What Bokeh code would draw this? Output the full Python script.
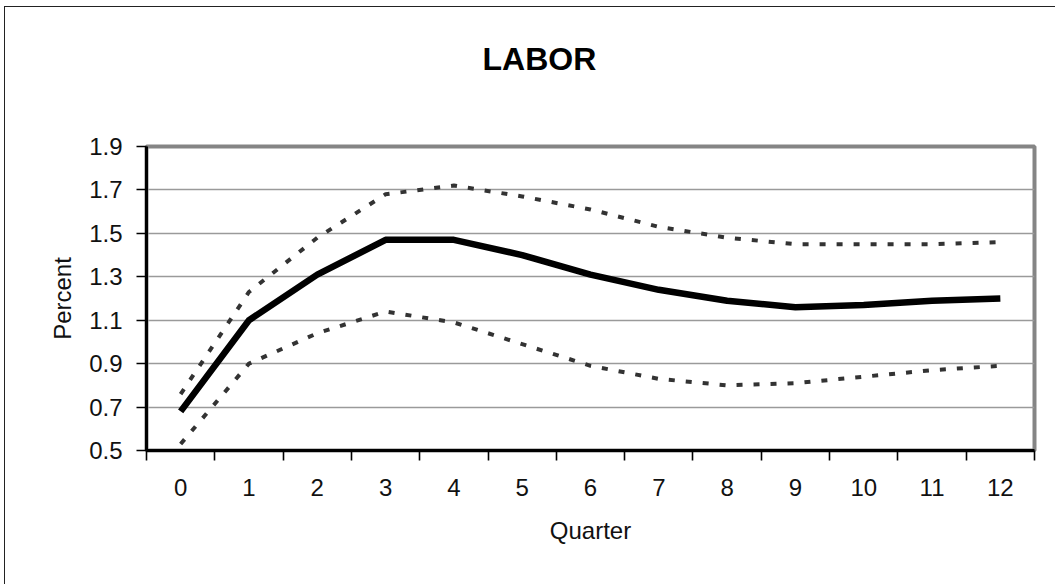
from bokeh.plotting import figure
from bokeh.models import Range1d, FixedTicker, Title
from bokeh.embed import file_html
from bokeh.resources import INLINE

# ---- data ----
quarters = list(range(13))
x_tick_labels = [str(q) for q in quarters]
y_ticks = [0.5, 0.7, 0.9, 1.1, 1.3, 1.5, 1.7, 1.9]
y_tick_labels = ["0.5", "0.7", "0.9", "1.1", "1.3", "1.5", "1.7", "1.9"]
response = [0.68, 1.10, 1.31, 1.47, 1.47, 1.40, 1.31, 1.24, 1.19, 1.16, 1.17, 1.19, 1.20]
upper_band = [0.76, 1.23, 1.48, 1.68, 1.72, 1.67, 1.61, 1.53, 1.48, 1.45, 1.45, 1.45, 1.46]
lower_band = [0.53, 0.90, 1.04, 1.14, 1.09, 0.99, 0.89, 0.83, 0.80, 0.81, 0.84, 0.87, 0.89]
chart_title = "LABOR"

FONT = "Liberation Sans"

p = figure(width=1051, height=578, output_backend="svg", toolbar_location=None,
           x_range=Range1d(quarters[0] - 0.5, quarters[-1] + 0.5),
           y_range=Range1d(y_ticks[0], y_ticks[-1]),
           min_border_left=141, min_border_right=22,
           min_border_top=139, min_border_bottom=135,
           background_fill_color="white", border_fill_color="white")
p.title = None

# spacer panel next to the frame, then the title panel above it
p.add_layout(Title(text=" ", text_font=FONT, text_font_size="10px", standoff=57), "above")
p.add_layout(Title(text=chart_title, align="left", offset=336, standoff=0,
                   text_font=FONT, text_font_size="32px", text_font_style="bold",
                   text_color="#000000"), "above")

# outer frame: only its left and top edges are visible in the reference
p.styles = {"margin-left": "5px", "margin-top": "7px", "background-color": "white",
            "box-shadow": "-1px -1px 0px 0px #222222"}

# plot area border
p.outline_line_color = "#858585"
p.outline_line_width = 4

# grid
p.xgrid.grid_line_color = None
p.ygrid.ticker = FixedTicker(ticks=y_ticks)
p.ygrid.grid_line_color = "#9a9a9a"
p.ygrid.grid_line_width = 1.6

# x axis: labels at category centres, ticks between categories
xa = p.xaxis[0]
xa.ticker = FixedTicker(ticks=quarters, minor_ticks=[q - 0.5 for q in quarters] + [quarters[-1] + 0.5])
xa.major_label_overrides = {q: lab for q, lab in zip(quarters, x_tick_labels)}
xa.major_tick_line_color = None
xa.major_tick_out = 10
xa.major_tick_in = 0
xa.minor_tick_line_color = "#000000"
xa.minor_tick_line_width = 1.6
xa.minor_tick_out = 10
xa.minor_tick_in = 0
xa.axis_line_color = "#000000"
xa.axis_line_width = 3
xa.major_label_standoff = 18
xa.major_label_text_font = FONT
xa.major_label_text_font_size = "24px"
xa.major_label_text_color = "#111111"
xa.axis_label = "Quarter"
xa.axis_label_text_font = FONT
xa.axis_label_text_font_size = "24px"
xa.axis_label_text_font_style = "normal"
xa.axis_label_text_color = "#111111"
xa.axis_label_standoff = 18

# y axis
ya = p.yaxis[0]
ya.ticker = FixedTicker(ticks=y_ticks)
ya.major_label_overrides = {t: lab for t, lab in zip(y_ticks, y_tick_labels)}
ya.major_tick_line_color = "#000000"
ya.major_tick_line_width = 1.6
ya.major_tick_out = 10
ya.major_tick_in = 0
ya.minor_tick_line_color = None
ya.axis_line_color = "#000000"
ya.axis_line_width = 3
ya.major_label_standoff = 14
ya.major_label_text_font = FONT
ya.major_label_text_font_size = "24px"
ya.major_label_text_color = "#111111"
ya.axis_label = "Percent"
ya.axis_label_text_font = FONT
ya.axis_label_text_font_size = "24px"
ya.axis_label_text_font_style = "normal"
ya.axis_label_text_color = "#111111"
ya.axis_label_standoff = 10

# series
p.line(quarters, upper_band, line_color="#333333", line_width=4, line_dash="6 11")
p.line(quarters, lower_band, line_color="#333333", line_width=4, line_dash="6 11")
p.line(quarters, response, line_color="#000000", line_width=6.5, line_join="round")

open("out.html", "w").write(file_html(p, INLINE))
